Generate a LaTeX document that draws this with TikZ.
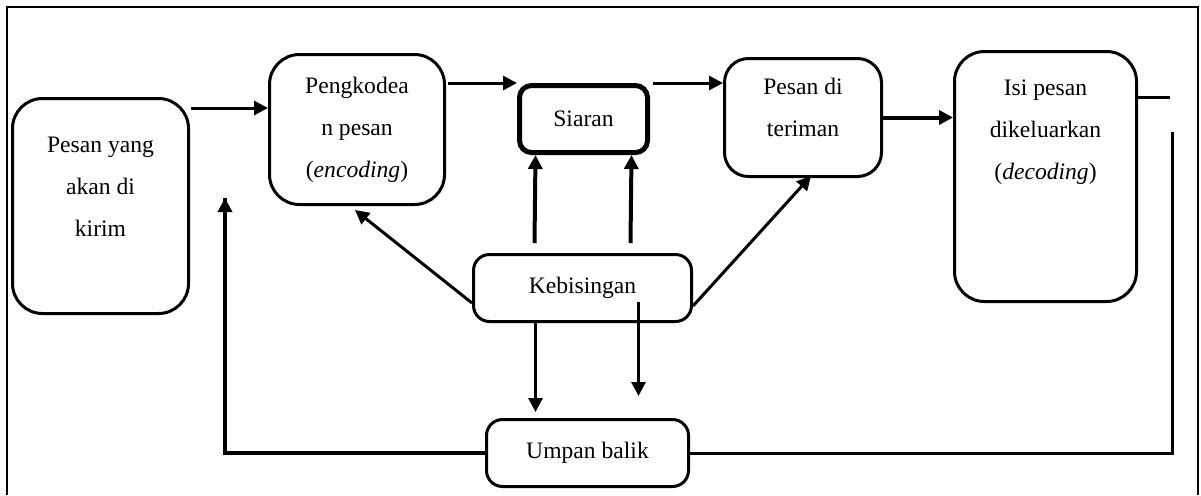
\documentclass[tikz,border=0pt]{standalone}
\usepackage{fontspec}
\setmainfont{Liberation Serif}
\usepackage{tikz}
\usetikzlibrary{calc}
\usetikzlibrary{arrows.meta}

\tikzset{
    kotak/.style={draw, line width=1.5pt, rounded corners=15pt, align=center, inner sep=0pt},
    panah/.style={line width=1.5pt, -{Triangle[length=7pt,width=7pt]}},
    tebal/.style={line width=2pt, -{Triangle[length=7pt,width=7pt]}},
}

\begin{document}
\begin{tikzpicture}[x=0.5pt, y=-0.5pt, font=\fontsize{11.8}{21}\selectfont]
    \useasboundingbox (0,0) rectangle (1201,495);
    \draw[line width=1pt] (7,495) -- (7,7) -- (1198,7) -- (1198,495);

    \node[kotak, anchor=north west, minimum width=88pt, minimum height=107.5pt] (a) at (11,97) {Pesan yang\\akan di\\kirim\\[-2pt]\mbox{}};
    \node[kotak, anchor=north west, minimum width=87.5pt, minimum height=75pt] (b) at (268,53) {Pengkodea\\n pesan\\(\emph{encoding})};
    \node[kotak, anchor=north west, minimum width=64pt, minimum height=33.5pt, line width=2.5pt, rounded corners=6pt] (c) at (517,83) {Siaran};
    \node[kotak, anchor=north west, minimum width=78.5pt, minimum height=59pt, rounded corners=12pt] (d) at (723,57) {Pesan di\\teriman\\[-11pt]\mbox{}};
    \node[kotak, anchor=north west, minimum width=91pt, minimum height=125pt] (e) at (953,50) {Isi pesan\\dikeluarkan\\(\emph{decoding})\\[5pt]\mbox{}\\\mbox{}};
    \node[kotak, anchor=north west, minimum width=109pt, minimum height=33.5pt, rounded corners=8pt] (n) at (472,253) {Kebisingan};
    \node[kotak, anchor=north west, minimum width=101pt, minimum height=33.5pt, rounded corners=8pt] (f) at (485,418) {Umpan balik};

    \coordinate (r1) at (225,198);
    \coordinate (r2) at (1172,132);

    % alur pesan
    \draw[panah] ($(a.north east)+(1,11)$) -- ($(b.west |- a.north east)+(0,11)$);
    \draw[panah] ($(b.east |- c.north)+(2,0)$) -- (c.north west);
    \draw[panah] ($(c.north east)+(3,0)$) -- (d.west |- c.north);
    \draw[tebal] (d.east) -- (e.west |- d.east);
    \draw[line width=1.5pt] ($(e.north east)+(0,47)$) -- ($(r2 |- e.north east)+(-2,47)$);

    % kebisingan
    \draw[panah] ($(n.west)+(0,15)$) -- ($(b.south)+(-2,4)$);
    \draw[tebal] ($(n.north)+(-48,-10)$) -- ($(c.south)+(-48,0)$);
    \draw[tebal] ($(n.north)+(48,-10)$) -- ($(c.south)+(48,0)$);
    \draw[panah] ($(n.east)+(0,18)$) -- ($(d.south)+(8,-2)$);
    \draw[panah] ($(n.south)+(-47,-3)$) -- ($(f.north)+(-52,-6)$);
    \draw[panah] ($(n.south)+(56,-21)$) -- ($(n.south)+(56,73)$);

    % umpan balik
    \draw[line width=2pt] (f.west) -- (r1 |- f.west) -- (r1);
    \draw[panah, line width=2pt] (r1 |- f.west) -- (r1);
    \draw[line width=1.5pt] (f.east) -- (r2 |- f.east) -- (r2);
\end{tikzpicture}
\end{document}
